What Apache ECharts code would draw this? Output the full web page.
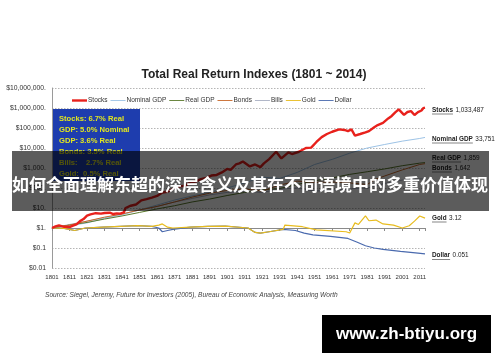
<!DOCTYPE html>
<html>
<head>
<meta charset="utf-8">
<script src="https://cdn.jsdelivr.net/npm/echarts@6/dist/echarts.min.js"></script>
<style>html,body{margin:0;padding:0;background:#fff}#c{width:500px;height:362px}</style>
</head>
<body>
<div id="c"></div>
<script>
// ---------- data ----------
const xTickLabels = ['1801','1811','1821','1831','1841','1851','1861','1871','1881','1891','1901','1911','1921','1931','1941','1951','1961','1971','1981','1991','2001','2011'];
const yTickLabels = ['$0.01','$0.1','$1.','$10.','$100.','$1,000.','$10,000.','$100,000.','$1,000,000.','$10,000,000.'];

const stocksYears = [1801,1803,1805,1808,1811,1813,1815,1817,1819,1821,1823,1826,1829,1831,1834,1836,1838,1840,1842,1843,1846,1849,1852,1855,1858,1861,1864,1867,1871,1874,1877,1880,1883,1886,1889,1892,1895,1898,1901,1903,1906,1908,1910,1914,1917,1920,1922,1925,1929,1932,1936,1938,1942,1946,1949,1952,1955,1958,1961,1965,1968,1970,1972,1974,1977,1980,1982,1985,1987,1990,1993,1995,1997,1999,2000,2002,2004,2006,2007,2008,2010,2011,2012,2013,2014];
const stocksValues = [1,1.2,1.35,1.15,1.1,1.3,1.5,2.2,2.8,4.2,4.8,5.5,5.2,5.6,5.8,5.0,5.4,5.2,6,10,13,15,24,28,33,40,60,65,100,120,130,190,210,280,320,420,450,600,900,800,1500,1700,2100,1200,1500,1100,1700,2800,6500,3000,6000,5000,6500,10000,10500,20000,35000,50000,65000,85000,80000,70000,85000,42000,50000,60000,70000,110000,140000,180000,300000,400000,600000,850000,800000,450000,630000,700000,730000,450000,620000,600000,750000,980000,1033487];

const nomGdpYears = [1801,1811,1821,1831,1841,1851,1861,1871,1881,1891,1901,1911,1921,1931,1941,1951,1961,1971,1981,1991,2001,2011,2014];
const nomGdpValues = [1,1.3,1.8,3,4.5,8,14,25,40,60,100,180,350,300,600,1500,2700,5500,10000,15000,22000,30000,33751];

const realGdpYears = [1801,1811,1821,1831,1841,1851,1861,1871,1881,1891,1901,1911,1921,1931,1941,1951,1961,1971,1981,1991,2001,2011,2014];
const realGdpValues = [1,1.4,1.9,2.8,4,6,9,13,20,28,42,60,80,95,150,230,320,480,650,900,1300,1750,1859];

const bondsYears = [1801,1811,1821,1831,1841,1851,1861,1871,1881,1891,1901,1911,1921,1931,1941,1951,1961,1971,1981,1986,1991,2001,2011,2014];
const bondsValues = [1,1.4,2.2,3.5,5,8,12,20,35,55,75,90,70,140,220,190,200,180,150,280,400,800,1500,1642];

const billsYears = [1801,1811,1821,1831,1841,1851,1861,1871,1881,1891,1901,1911,1921,1931,1941,1951,1961,1971,1981,1991,2001,2011,2014];
const billsValues = [1,1.5,2.2,3.2,5,8,12,20,30,45,60,70,60,90,100,70,80,90,100,170,250,285,281];

const goldYears = [1801,1808,1814,1820,1830,1840,1850,1858,1862,1864,1867,1870,1880,1890,1900,1913,1917,1920,1925,1933,1934,1944,1952,1969,1971,1974,1976,1980,1982,1986,1990,1996,2001,2005,2008,2011,2012,2014];
const goldValues = [1,0.95,0.75,1.0,1.1,1.2,1.3,1.2,1.4,1.6,1.1,1.0,1.1,1.2,1.25,1.0,0.6,0.55,0.65,0.85,1.4,1.16,0.8,0.65,0.56,1.8,1.5,4,2.3,2.5,1.6,1.4,1.0,1.3,2.2,4,3.8,3.12];

const dollarYears = [1801,1808,1814,1820,1830,1840,1850,1858,1862,1864,1867,1870,1880,1890,1900,1913,1917,1920,1925,1933,1940,1945,1950,1960,1970,1975,1980,1985,1990,2000,2010,2014];
const dollarValues = [1,0.95,0.75,1.0,1.1,1.2,1.3,1.2,1.0,0.65,0.75,0.85,1.1,1.2,1.25,1.0,0.6,0.55,0.65,0.85,0.75,0.55,0.45,0.38,0.3,0.2,0.13,0.1,0.085,0.068,0.056,0.051];

const statLines = ['Stocks: 6.7% Real','GDP: 5.0% Nominal','GDP: 3.6% Real','Bonds: 3.5% Real','Bills:    2.7% Real','Gold:  0.5% Real'];

// ---------- chart ----------
const BASE = 1801;
const pairs = (ys, vs) => ys.map((y, i) => [y - BASE, vs[i]]);
const fmt = v => v >= 1000 ? Math.round(v).toLocaleString('en-US') : String(v);

const seriesDefs = [
  {name:'Stocks', ys:stocksYears, vs:stocksValues, color:'#E8211C', w:2.4, z:10},
  {name:'Nominal GDP', ys:nomGdpYears, vs:nomGdpValues, color:'#9DC3E6', w:1, z:3},
  {name:'Real GDP', ys:realGdpYears, vs:realGdpValues, color:'#5B7A2C', w:1, z:4},
  {name:'Bonds', ys:bondsYears, vs:bondsValues, color:'#C8682A', w:1, z:5},
  {name:'Bills', ys:billsYears, vs:billsValues, color:'#A9AFC2', w:1, z:2},
  {name:'Gold', ys:goldYears, vs:goldValues, color:'#E8BC1E', w:1.2, z:6},
  {name:'Dollar', ys:dollarYears, vs:dollarValues, color:'#4A6AAE', w:1.2, z:5}
];

const FONT = '"Liberation Sans", Arial, sans-serif';
const chart = echarts.init(document.getElementById('c'), null, {renderer:'canvas'});

// measure helper for underlines
const mctx = document.createElement('canvas').getContext('2d');
function tw(text, size, weight) { mctx.font = (weight||'normal') + ' ' + size + 'px "Liberation Sans", Arial, sans-serif'; return mctx.measureText(text).width; }

const graphics = [];
// stats box
graphics.push({type:'rect', z:50, shape:{x:53, y:109, width:87, height:72}, style:{fill:'#1E3DAE'}});
statLines.forEach((t, i) => {
  graphics.push({type:'text', z:51, x:59, y:118.5 + i*11, style:{text:t, fill:'#E2E61E', font:'bold 7.6px ' + FONT, verticalAlign:'middle', align:'left'}});
});
// right end labels
const endLabels = [
  {name:'Stocks', val:stocksValues[stocksValues.length-1], y:110},
  {name:'Nominal GDP', val:nomGdpValues[nomGdpValues.length-1], y:139},
  {name:'Real GDP', val:realGdpValues[realGdpValues.length-1], y:158},
  {name:'Bonds', val:bondsValues[bondsValues.length-1], y:168},
  {name:'Gold', val:goldValues[goldValues.length-1], y:218},
  {name:'Dollar', val:dollarValues[dollarValues.length-1], y:255.5}
];
endLabels.forEach(l => {
  const x0 = 432;
  const nw = tw(l.name, 6.4, 'bold');
  graphics.push({type:'text', z:20, x:x0, y:l.y, style:{text:l.name, fill:'#222', font:'bold 6.4px ' + FONT, verticalAlign:'middle'}});
  graphics.push({type:'line', z:20, shape:{x1:x0, y1:l.y+4, x2:x0+nw, y2:l.y+4}, style:{stroke:'#333', lineWidth:0.6}});
  graphics.push({type:'text', z:20, x:x0+nw+2.5, y:l.y, style:{text:fmt(l.val), fill:'#222', font:'6.4px ' + FONT, verticalAlign:'middle'}});
});
// source
graphics.push({type:'text', z:20, x:45, y:295, style:{text:'Source: Siegel, Jeremy, Future for Investors (2005), Bureau of Economic Analysis, Measuring Worth', fill:'#444', font:'italic 6.6px ' + FONT, verticalAlign:'middle'}});
// overlay band
graphics.push({type:'rect', z:100, shape:{x:12, y:151, width:477, height:60}, style:{fill:'rgba(0,0,0,0.64)'}});
graphics.push({type:'text', z:101, x:250, y:185, style:{text:'如何全面理解东超的深层含义及其在不同语境中的多重价值体现', fill:'#fff', font:'bold 17px "Noto Sans CJK SC", sans-serif', align:'center', verticalAlign:'middle'}});
// watermark
graphics.push({type:'rect', z:100, shape:{x:322, y:315, width:169, height:38}, style:{fill:'#000'}});
graphics.push({type:'text', z:101, x:406.5, y:334, style:{text:'www.zh-btiyu.org', fill:'#fff', font:'bold 17px ' + FONT, align:'center', verticalAlign:'middle'}});

const thinIcon = 'path://M0,0H20V1.2H0Z';
const thickIcon = 'path://M0,0H20V3.2H0Z';

const option = {
  animation:false,
  backgroundColor:'#fff',
  title:{text:'Total Real Return Indexes (1801 ~ 2014)', left:249, top:64, textAlign:'center',
    textStyle:{fontFamily:FONT, fontWeight:'bold', fontSize:12, color:'#222'}},
  legend:{top:92, left:67, itemWidth:15, itemHeight:8, itemGap:3,
    textStyle:{fontFamily:FONT, fontSize:6.5, color:'#333', padding:[0,0,0,-4]},
    data:seriesDefs.map(s => ({name:s.name, icon: s.w > 2 ? thickIcon : thinIcon}))},
  grid:{left:52, right:75, top:88, bottom:94},
  xAxis:[
    {type:'value', min:0, max:2014-BASE, interval:10, position:'bottom',
     axisLine:{show:false}, axisTick:{show:false}, splitLine:{show:false},
     axisLabel:{fontFamily:FONT, fontSize:6, color:'#333', margin:6, formatter:v => xTickLabels[Math.round(v/10)] || ''}},
    {type:'value', min:0, max:2014-BASE, interval:10, position:'bottom', offset:-40,
     axisLine:{show:true, lineStyle:{color:'#8a8a8a', width:1}}, axisTick:{show:true, length:3, lineStyle:{color:'#8a8a8a'}},
     axisLabel:{show:false}, splitLine:{show:false}}
  ],
  yAxis:{type:'log', logBase:10, min:0.01, max:10000000,
    axisLine:{show:true, lineStyle:{color:'#9a9a9a'}}, axisTick:{show:false},
    splitLine:{show:true, lineStyle:{color:'#b5b5b5', type:[1.5,1.5], width:1}},
    axisLabel:{fontFamily:FONT, fontSize:6.8, color:'#333', margin:6,
      formatter:v => yTickLabels[Math.round(Math.log10(v)) + 2] || ''}},
  series:seriesDefs.map(s => ({
    name:s.name, type:'line', xAxisIndex:0, data:pairs(s.ys, s.vs), symbol:'none', z:s.z,
    lineStyle:{color:s.color, width:s.w}, itemStyle:{color:s.color}
  })),
  graphic:graphics
};
chart.setOption(option);
</script>
</body>
</html>
